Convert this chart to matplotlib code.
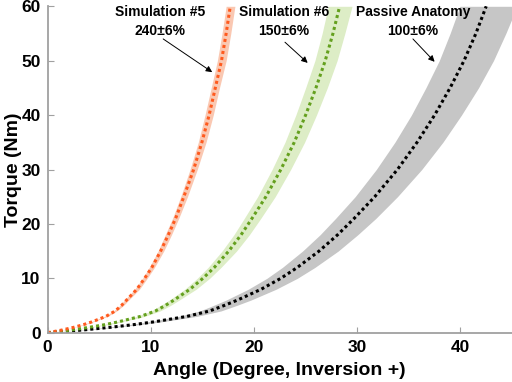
import matplotlib
matplotlib.use('Agg')
import matplotlib.pyplot as plt

plt.rcParams['font.family'] = ['Liberation Sans', 'DejaVu Sans']
plt.rcParams['font.weight'] = 'bold'

torque = [0, 0.5, 1, 1.5, 2, 3, 4, 5, 6, 8, 10, 12, 15, 18, 21, 25, 30, 35, 40, 45, 50, 55, 60]

passive_mid = [0, 3.4, 6.1, 8.4, 10.3, 13.5, 15.7, 17.1, 18.4, 20.7, 22.6, 24.2, 26.3, 28.1,
               29.7, 31.7, 33.9, 35.8, 37.5, 39.0, 40.35, 41.5, 42.5]
passive_lo = [0, 3.2, 5.75, 7.9, 9.7, 12.7, 14.75, 16.05, 17.3, 19.45, 21.25, 22.75, 24.7, 26.4,
              27.9, 29.8, 31.85, 33.65, 35.25, 36.65, 37.95, 39.0, 39.95]
passive_hi = [0, 3.65, 6.5, 9.0, 11.0, 14.45, 16.8, 18.3, 19.7, 22.15, 24.2, 25.9, 28.15, 30.05,
              31.8, 33.9, 36.25, 38.3, 40.1, 41.75, 43.2, 44.4, 45.5]

sim6_mid = [0, 2.3, 4.05, 5.6, 6.85, 9.0, 10.45, 11.4, 12.25, 13.8, 15.05, 16.15, 17.55, 18.75,
            19.8, 21.15, 22.6, 23.9, 25.0, 26.0, 26.9, 27.65, 28.3]
sim6_lo = [0, 2.2, 3.9, 5.4, 6.6, 8.65, 10.05, 10.95, 11.8, 13.3, 14.5, 15.55, 16.9, 18.05,
           19.05, 20.35, 21.75, 23.0, 24.05, 25.0, 25.9, 26.6, 27.2]
sim6_hi = [0, 2.4, 4.2, 5.85, 7.15, 9.4, 10.9, 11.9, 12.75, 14.4, 15.7, 16.8, 18.3, 19.55,
           20.65, 22.05, 23.55, 24.9, 26.05, 27.1, 28.05, 28.8, 29.5]

sim5_mid = [0, 1.4, 2.55, 3.5, 4.3, 5.65, 6.55, 7.15, 7.65, 8.65, 9.4, 10.1, 10.95, 11.7,
            12.4, 13.2, 14.15, 14.95, 15.65, 16.25, 16.85, 17.3, 17.7]
sim5_lo = [0, 1.35, 2.5, 3.4, 4.2, 5.5, 6.4, 7.0, 7.45, 8.45, 9.2, 9.85, 10.7, 11.4,
           12.1, 12.9, 13.8, 14.6, 15.25, 15.85, 16.45, 16.9, 17.3]
sim5_hi = [0, 1.45, 2.6, 3.6, 4.4, 5.8, 6.7, 7.35, 7.85, 8.9, 9.65, 10.35, 11.25, 12.0,
           12.7, 13.55, 14.5, 15.35, 16.05, 16.65, 17.3, 17.75, 18.15]

labels = ['Simulation #5\n240\u00b16%', 'Simulation #6\n150\u00b16%', 'Passive Anatomy\n100\u00b16%']
label_xy = [(10.9, 57.2), (22.9, 57.2), (35.4, 57.2)]
arrow_from = [(11.2, 54.0), (23.0, 53.4), (35.4, 54.0)]
arrow_to = [(15.95, 47.9), (25.2, 49.6), (37.5, 49.8)]

fig = plt.figure(figsize=(5.12, 3.82), dpi=100)
ax = fig.add_axes([0.093, 0.129, 0.907, 0.8545])

# shaded ranges first, dotted centre lines on top
ax.fill_betweenx(torque, passive_lo, passive_hi, color='#c6c6c6', lw=0)
ax.fill_betweenx(torque, sim6_lo, sim6_hi, color='#ddedc6', lw=0)
ax.fill_betweenx(torque, sim5_lo, sim5_hi, color='#fac8b2', lw=0)

for mid, col in [(passive_mid, 'black'), (sim6_mid, '#64a01e'), (sim5_mid, '#ff5a1e')]:
    ax.plot(mid, torque, color=col, lw=2.2, linestyle=(0, (1, 1)), dash_capstyle='butt')

for txt, xy, a, b in zip(labels, label_xy, arrow_from, arrow_to):
    ax.text(xy[0], xy[1], txt, ha='center', va='center', fontsize=10,
            fontweight='bold', linespacing=1.4)
    ax.annotate('', xy=b, xytext=a,
                arrowprops=dict(arrowstyle='-|>', lw=0.7, color='black',
                                mutation_scale=9, shrinkA=0, shrinkB=0))

ax.set_xlim(0, 45)
ax.set_ylim(0, 60)
ax.set_xticks([0, 10, 20, 30, 40])
ax.set_yticks([0, 10, 20, 30, 40, 50, 60])
for s in ['top', 'right']:
    ax.spines[s].set_visible(False)
for s in ['left', 'bottom']:
    ax.spines[s].set_color('#a0a0a0')
    ax.spines[s].set_linewidth(1.3)
ax.tick_params(direction='in', length=4, color='#a0a0a0', labelsize=12.5, pad=5)
for lab in ax.get_xticklabels() + ax.get_yticklabels():
    lab.set_fontweight('bold')

ax.set_xlabel('Angle (Degree, Inversion +)', fontsize=14, fontweight='bold')
ax.set_ylabel('Torque (Nm)', fontsize=14, fontweight='bold')
ax.xaxis.set_label_coords(0.5, -0.09)
ax.yaxis.set_label_coords(-0.056, 0.498)

fig.savefig('out.png', dpi=100)
